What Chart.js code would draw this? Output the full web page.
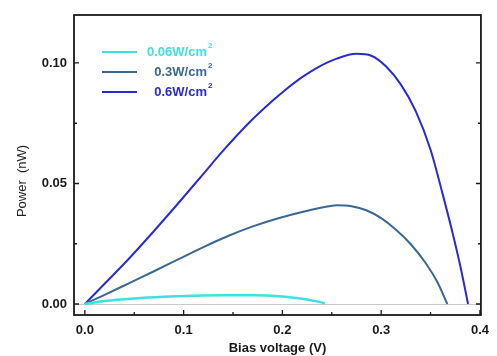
<!DOCTYPE html>
<html>
<head>
<meta charset="utf-8">
<title>Power vs bias voltage</title>
<script src="https://cdn.jsdelivr.net/npm/chart.js@4.4.0/dist/chart.umd.min.js"></script>
<style>
  html, body { margin: 0; padding: 0; background: #fff; }
  #wrap { width: 497px; height: 356px; }
</style>
</head>
<body>
<div id="wrap"><canvas id="powerChart" width="497" height="356"></canvas></div>
<script>
// irradiance series, the "2" of W/cm2 is drawn as a superscript
const seriesLabels = ["0.06W/cm", "0.3W/cm", "0.6W/cm"];
const seriesColors = ["#3fe0e0", "#3a6892", "#2a2ad2"];

const voltage006 = [0, 0.02, 0.05, 0.08, 0.11, 0.14, 0.17, 0.2, 0.22, 0.235, 0.243];
const power006 = [0, 0.0012, 0.0023, 0.0030, 0.0034, 0.0036, 0.0036, 0.0031, 0.0022, 0.0011, 0.0003];

const voltage03 = [0, 0.02, 0.045, 0.07, 0.095, 0.12, 0.145, 0.17, 0.195, 0.22, 0.24, 0.255, 0.27, 0.285, 0.3, 0.315, 0.33, 0.345, 0.357, 0.367];
const power03 = [0, 0.0038, 0.0087, 0.0136, 0.0186, 0.0236, 0.0282, 0.0322, 0.0355, 0.0382, 0.0400, 0.0410, 0.0406, 0.0389, 0.0356, 0.0308, 0.0248, 0.0170, 0.0090, 0];

const voltage06 = [0, 0.02, 0.045, 0.07, 0.095, 0.12, 0.14, 0.168, 0.19, 0.202, 0.22, 0.235, 0.255, 0.275, 0.29, 0.305, 0.32, 0.335, 0.35, 0.362, 0.372, 0.38, 0.388];
const power06 = [0, 0.0084, 0.0190, 0.0303, 0.0420, 0.0540, 0.0636, 0.0759, 0.0843, 0.0885, 0.0941, 0.0980, 0.1018, 0.1038, 0.1030, 0.0985, 0.0910, 0.0800, 0.0640, 0.0460, 0.0300, 0.0160, 0];

const xMajor = [0, 0.1, 0.2, 0.3, 0.4];
const xMinor = [0.05, 0.15, 0.25, 0.35];
const yMajor = [0, 0.05, 0.1];
const yMinor = [0.025, 0.075];

const FONT = "'Liberation Sans', Arial, sans-serif";

function toPoints(xs, ys) {
  return xs.map((x, i) => ({ x: x, y: ys[i] }));
}

function makeSet(label, xs, ys, color, width) {
  return {
    label: label,
    data: toPoints(xs, ys),
    borderColor: color,
    borderWidth: width,
    pointRadius: 0,
    fill: false,
    cubicInterpolationMode: "monotone",
  };
}

// frame, inward ticks, legend and the rotated y title
const decorations = {
  id: "decorations",
  afterDatasetsDraw(chart) {
    const ctx = chart.ctx;
    const area = chart.chartArea;
    const xs = chart.scales.x;
    const ys = chart.scales.y;
    ctx.save();

    ctx.strokeStyle = "#1a1a1a";
    ctx.lineWidth = 1.8;
    ctx.strokeRect(area.left, area.top, area.right - area.left, area.bottom - area.top);

    ctx.lineWidth = 1.3;
    ctx.beginPath();
    xMajor.concat(xMinor).forEach((v) => {
      const px = xs.getPixelForValue(v);
      const len = xMajor.includes(v) ? 5 : 3;
      ctx.moveTo(px, area.bottom);
      ctx.lineTo(px, area.bottom - len);
    });
    yMajor.concat(yMinor).forEach((v) => {
      const py = ys.getPixelForValue(v);
      const len = yMajor.includes(v) ? 5 : 3;
      ctx.moveTo(area.left, py);
      ctx.lineTo(area.left + len, py);
      ctx.moveTo(area.right, py);
      ctx.lineTo(area.right - len, py);
    });
    ctx.stroke();

    // legend
    chart.data.datasets.forEach((ds, i) => {
      const y = 52 + i * 20;
      ctx.strokeStyle = ds.borderColor;
      ctx.lineWidth = 2;
      ctx.beginPath();
      ctx.moveTo(102, y);
      ctx.lineTo(137, y);
      ctx.stroke();

      ctx.fillStyle = ds.borderColor;
      ctx.font = "bold 13px " + FONT;
      ctx.textAlign = "right";
      ctx.textBaseline = "middle";
      ctx.fillText(ds.label, 207, y);
      ctx.font = "bold 8px " + FONT;
      ctx.textAlign = "left";
      ctx.fillText("2", 208, y - 6);
    });

    ctx.translate(22, 181);
    ctx.rotate(-Math.PI / 2);
    ctx.fillStyle = "#222";
    ctx.font = "13px " + FONT;
    ctx.textAlign = "center";
    ctx.textBaseline = "middle";
    ctx.fillText("Power  (nW)", 0, 0);

    ctx.restore();
  },
};

const ctx = document.getElementById("powerChart").getContext("2d");
new Chart(ctx, {
  type: "line",
  data: {
    datasets: [
      makeSet(seriesLabels[0], voltage006, power006, seriesColors[0], 2.5),
      makeSet(seriesLabels[1], voltage03, power03, seriesColors[1], 2),
      makeSet(seriesLabels[2], voltage06, power06, seriesColors[2], 2),
    ],
  },
  options: {
    responsive: false,
    animation: false,
    layout: { padding: { left: 0, right: 11, top: 15, bottom: 0 } },
    plugins: {
      legend: { display: false },
      title: { display: false },
      tooltip: { enabled: false },
    },
    scales: {
      x: {
        type: "linear",
        min: -0.011,
        max: 0.401,
        afterBuildTicks: (scale) => {
          scale.ticks = xMajor.map((v) => ({ value: v }));
        },
        afterFit: (scale) => {
          scale.height = 41;
        },
        grid: { display: false, drawTicks: false },
        border: { display: false },
        ticks: {
          padding: 8,
          color: "#1a1a1a",
          font: { family: FONT, size: 13, weight: "bold" },
          callback: (v) => Number(v).toFixed(1),
        },
        title: {
          display: true,
          text: "Bias voltage (V)",
          color: "#1a1a1a",
          padding: { top: 0, bottom: 0 },
          font: { family: FONT, size: 13, weight: "bold" },
        },
      },
      y: {
        min: -0.00456,
        max: 0.1199,
        afterBuildTicks: (scale) => {
          scale.ticks = yMajor.map((v) => ({ value: v }));
        },
        afterFit: (scale) => {
          scale.width = 74;
        },
        grid: {
          drawTicks: false,
          lineWidth: 1,
          color: (c) => (c.tick && c.tick.value === 0 ? "#c8c8c8" : "rgba(0,0,0,0)"),
        },
        border: { display: false },
        ticks: {
          padding: 7,
          color: "#1a1a1a",
          font: { family: FONT, size: 13, weight: "bold" },
          callback: (v) => Number(v).toFixed(2),
        },
      },
    },
  },
  plugins: [decorations],
});
</script>
</body>
</html>
